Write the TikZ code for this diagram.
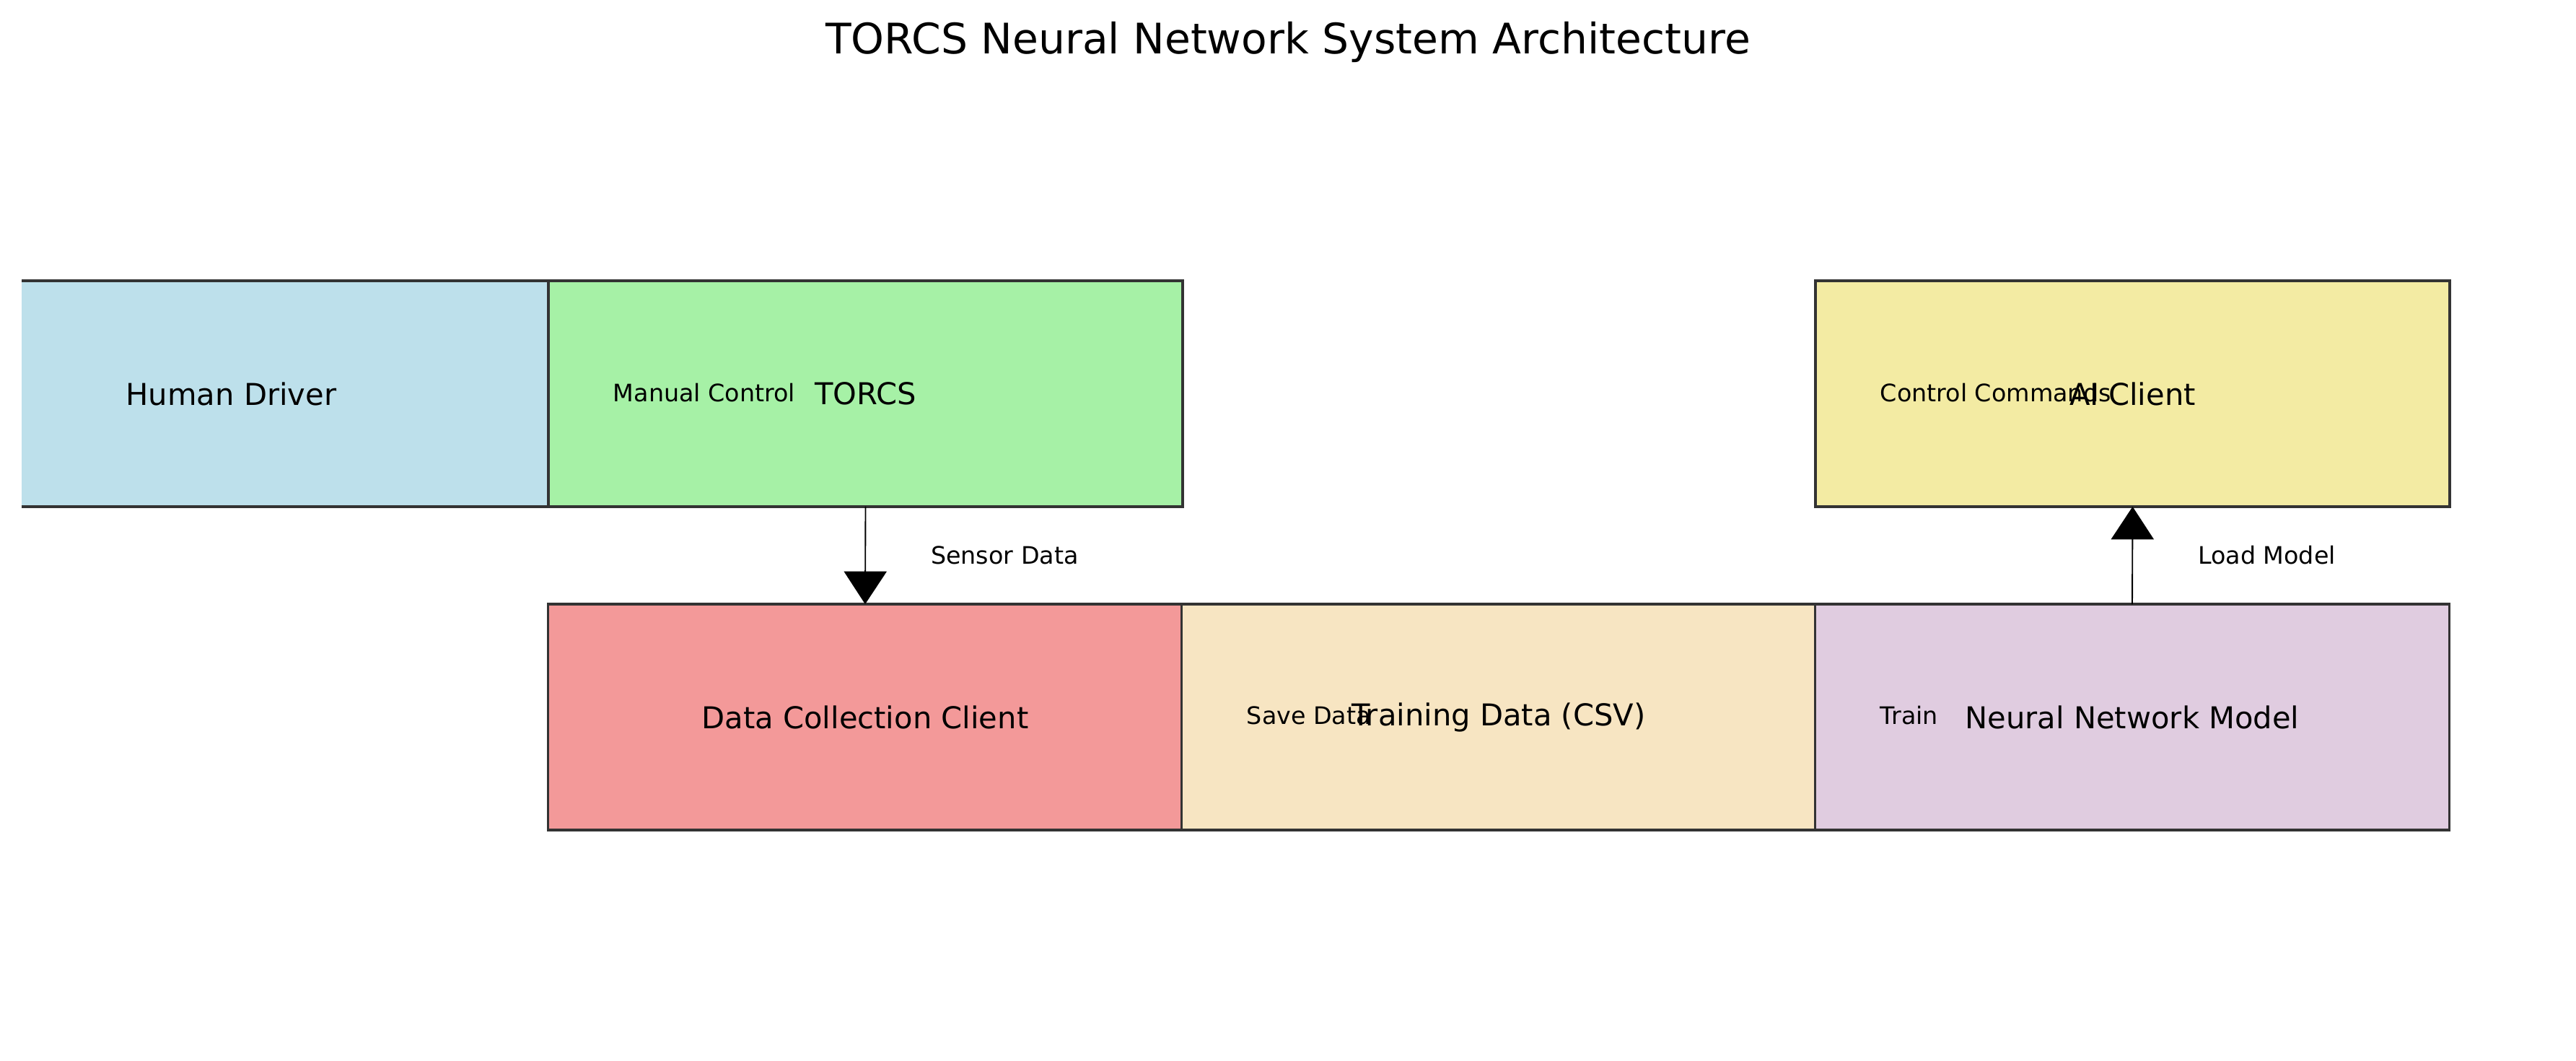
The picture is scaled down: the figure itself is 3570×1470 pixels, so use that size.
\documentclass[tikz,border=0pt]{standalone}
\usepackage{fontspec}
\setmainfont{DejaVu Sans}
\usetikzlibrary{arrows.meta}
\definecolor{hdfill}{RGB}{189,224,235}
\definecolor{torcsfill}{RGB}{166,241,166}
\definecolor{dccfill}{RGB}{243,153,153}
\definecolor{tdfill}{RGB}{247,229,194}
\definecolor{nnfill}{RGB}{224,204,224}
\definecolor{aifill}{RGB}{243,235,163}
\definecolor{edgegray}{RGB}{51,51,51}
\begin{document}
\begin{tikzpicture}[x=0.24pt,y=-0.24pt,
  box/.style={draw=edgegray, line width=0.85pt, minimum width=210.9pt, minimum height=75.1pt, inner sep=0pt, outer sep=0pt, font=\fontsize{10}{12}\selectfont},
  lbl/.style={anchor=base west, inner sep=0pt, font=\fontsize{8}{10}\selectfont},
  arrlbl/.style={anchor=west, inner sep=0pt, xshift=21.6pt, font=\fontsize{8}{10}\selectfont},
  arr/.style={line width=0.45pt, -{Triangle[width=14.2pt,length=10.9pt]}}]
\useasboundingbox[fill=white] (0,0) rectangle (3570,1470);

\node[anchor=base, inner sep=0pt, font=\fontsize{14}{17}\selectfont] (title) at (1785,75) {TORCS Neural Network System Architecture};

\begin{scope}
  \clip (30,0) rectangle (3570,1470);
  \node[box, fill=hdfill] (human) at (320.5,545.5) {Human Driver};
\end{scope}
\node[box, fill=torcsfill] (torcs) at (1199.5,545.5) {TORCS};
\node[box, fill=aifill] (ai) at (2955.5,545.5) {AI Client};
\node[box, fill=dccfill] (dcc) at (1199,993.5) {Data Collection Client};
\node[box, fill=tdfill] (td) at (2077,993.5) {Training Data (CSV)};
\node[box, fill=nnfill] (nn) at (2955,993.5) {Neural Network Model};

\draw[arr] (torcs.south) -- node[arrlbl] (sensor) {Sensor Data} (dcc.north);
\draw[arr] (nn.north) -- node[arrlbl] (load) {Load Model} (ai.south);

\node[lbl] (manual) at (849,556) {Manual Control};
\node[lbl] (ctrl) at (2605,556) {Control Commands};
\node[lbl] (save) at (1727,1003) {Save Data};
\node[lbl] (train) at (2605,1003) {Train};
\end{tikzpicture}
\end{document}
